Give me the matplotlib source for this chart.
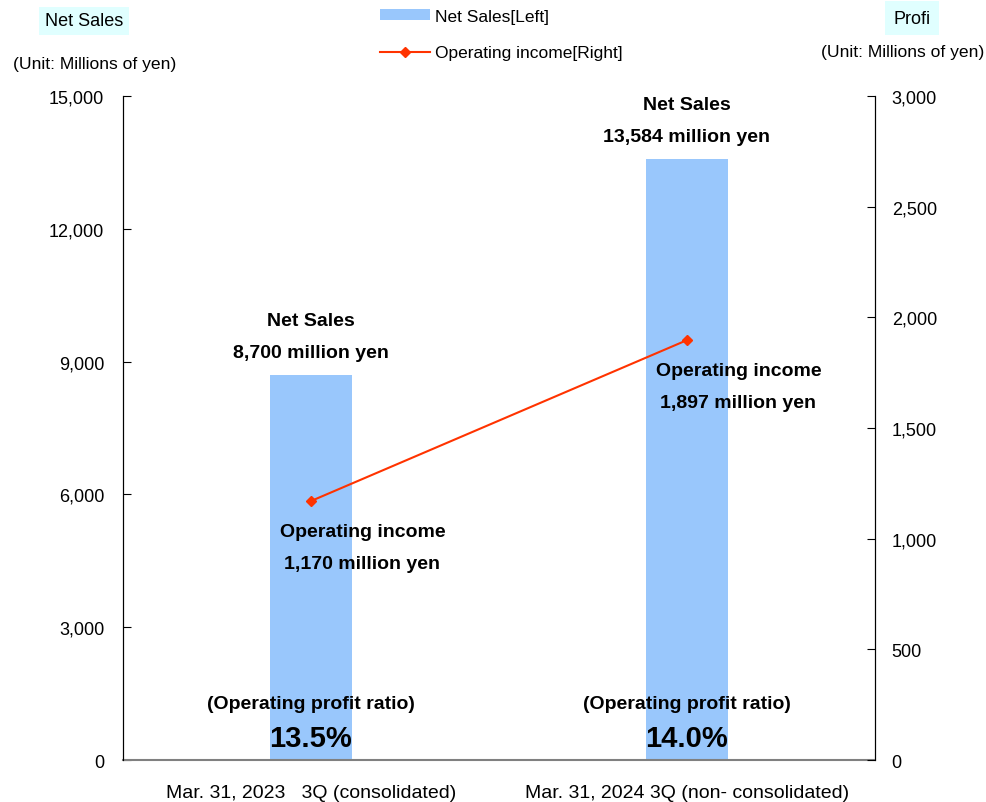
import matplotlib
matplotlib.use("Agg")
import matplotlib.pyplot as plt
from matplotlib.lines import Line2D
from matplotlib.patches import Patch

plt.rcParams["font.family"] = ["Liberation Sans", "DejaVu Sans"]

# -------- data --------
periods = ["Mar. 31, 2023   3Q (consolidated)", "Mar. 31, 2024 3Q (non- consolidated)"]
net_sales = [8700, 13584]          # millions of yen, left axis
op_income = [1170, 1897]           # millions of yen, right axis
profit_ratio = [13.5, 14.0]        # operating profit ratio, %
left_ticks = [0, 3000, 6000, 9000, 12000, 15000]
right_ticks = [0, 500, 1000, 1500, 2000, 2500, 3000]

BAR_COLOR = "#99c7fc"
LINE_COLOR = "#ff3300"
LABEL_BG = "#e0ffff"

fig = plt.figure(figsize=(9.86, 8.03), dpi=100)
ax = fig.add_axes([0.1247, 0.0523, 0.7627, 0.8269])
ax2 = ax.twinx()

x = list(range(len(periods)))
ax.bar(x, net_sales, width=0.22, color=BAR_COLOR, zorder=1)
ax2.plot(x, op_income, color=LINE_COLOR, lw=1.5, marker="D", ms=5, zorder=3)

ax.set_xlim(-0.5, 1.5)
ax.set_ylim(0, 15000)
ax2.set_ylim(0, 3000)
ax.set_yticks(left_ticks)
ax.set_yticklabels([f"{v:,}" for v in left_ticks])
ax2.set_yticks(right_ticks)
ax2.set_yticklabels([f"{v:,}" for v in right_ticks])
ax.set_xticks(x)
ax.set_xticklabels(periods, fontsize=14)

for a in (ax, ax2):
    a.spines["top"].set_visible(False)
    a.tick_params(axis="y", direction="in", length=6, labelsize=13)
ax.tick_params(axis="y", pad=13.5)
ax2.tick_params(axis="y", pad=12)
ax.tick_params(axis="x", length=0, pad=17)
ax.spines["bottom"].set_color("#808080")
ax.spines["bottom"].set_linewidth(1.5)
ax2.spines["bottom"].set_visible(False)

# net sales labels above bars
for xi, v in zip(x, net_sales):
    ax.annotate(f"{v:,} million yen", (xi, v), xytext=(0, 16), textcoords="offset points",
                ha="center", va="center", fontsize=14, fontweight="bold")
    ax.annotate("Net Sales", (xi, v), xytext=(0, 39), textcoords="offset points",
                ha="center", va="center", fontsize=14, fontweight="bold")

# operating income labels below markers
for xi, v in zip(x, op_income):
    ax2.annotate("Operating income", (xi, v), xytext=(37, -22), textcoords="offset points",
                 ha="center", va="center", fontsize=14, fontweight="bold")
    ax2.annotate(f"{v:,} million yen", (xi, v), xytext=(37, -45), textcoords="offset points",
                 ha="center", va="center", fontsize=14, fontweight="bold")

# operating profit ratio at the bottom of each bar
for xi, r in zip(x, profit_ratio):
    ax.text(xi, 0.0858, "(Operating profit ratio)", transform=ax.get_xaxis_transform(),
            ha="center", va="center", fontsize=14, fontweight="bold")
    ax.text(xi, 0.033, f"{r:.1f}%", transform=ax.get_xaxis_transform(),
            ha="center", va="center", fontsize=21, fontweight="bold")

# axis titles
fig.text(45 / 986, 1 - 22 / 803, "Net Sales", ha="left", va="center", fontsize=13,
         bbox=dict(facecolor=LABEL_BG, edgecolor="none", pad=4))
fig.text(13 / 986, 1 - 64 / 803, "(Unit: Millions of yen)", ha="left", va="center", fontsize=12.6)
fig.text(912 / 986, 1 - 19 / 803, "Profi", ha="center", va="center", fontsize=13,
         bbox=dict(facecolor=LABEL_BG, edgecolor="none", pad=6))
fig.text(984 / 986, 1 - 52 / 803, "(Unit: Millions of yen)", ha="right", va="center", fontsize=12.6)

handles = [Patch(facecolor=BAR_COLOR, edgecolor="none"),
           Line2D([], [], color=LINE_COLOR, lw=1.5, marker="D", ms=5)]
fig.legend(handles, ["Net Sales[Left]", "Operating income[Right]"], loc="upper left",
           bbox_to_anchor=(364 / 986, 1 + 6 / 803), frameon=False, fontsize=12.5,
           handlelength=2.9, handleheight=0.6, handletextpad=0.3, labelspacing=1.25)

fig.savefig("out.png", dpi=100)
